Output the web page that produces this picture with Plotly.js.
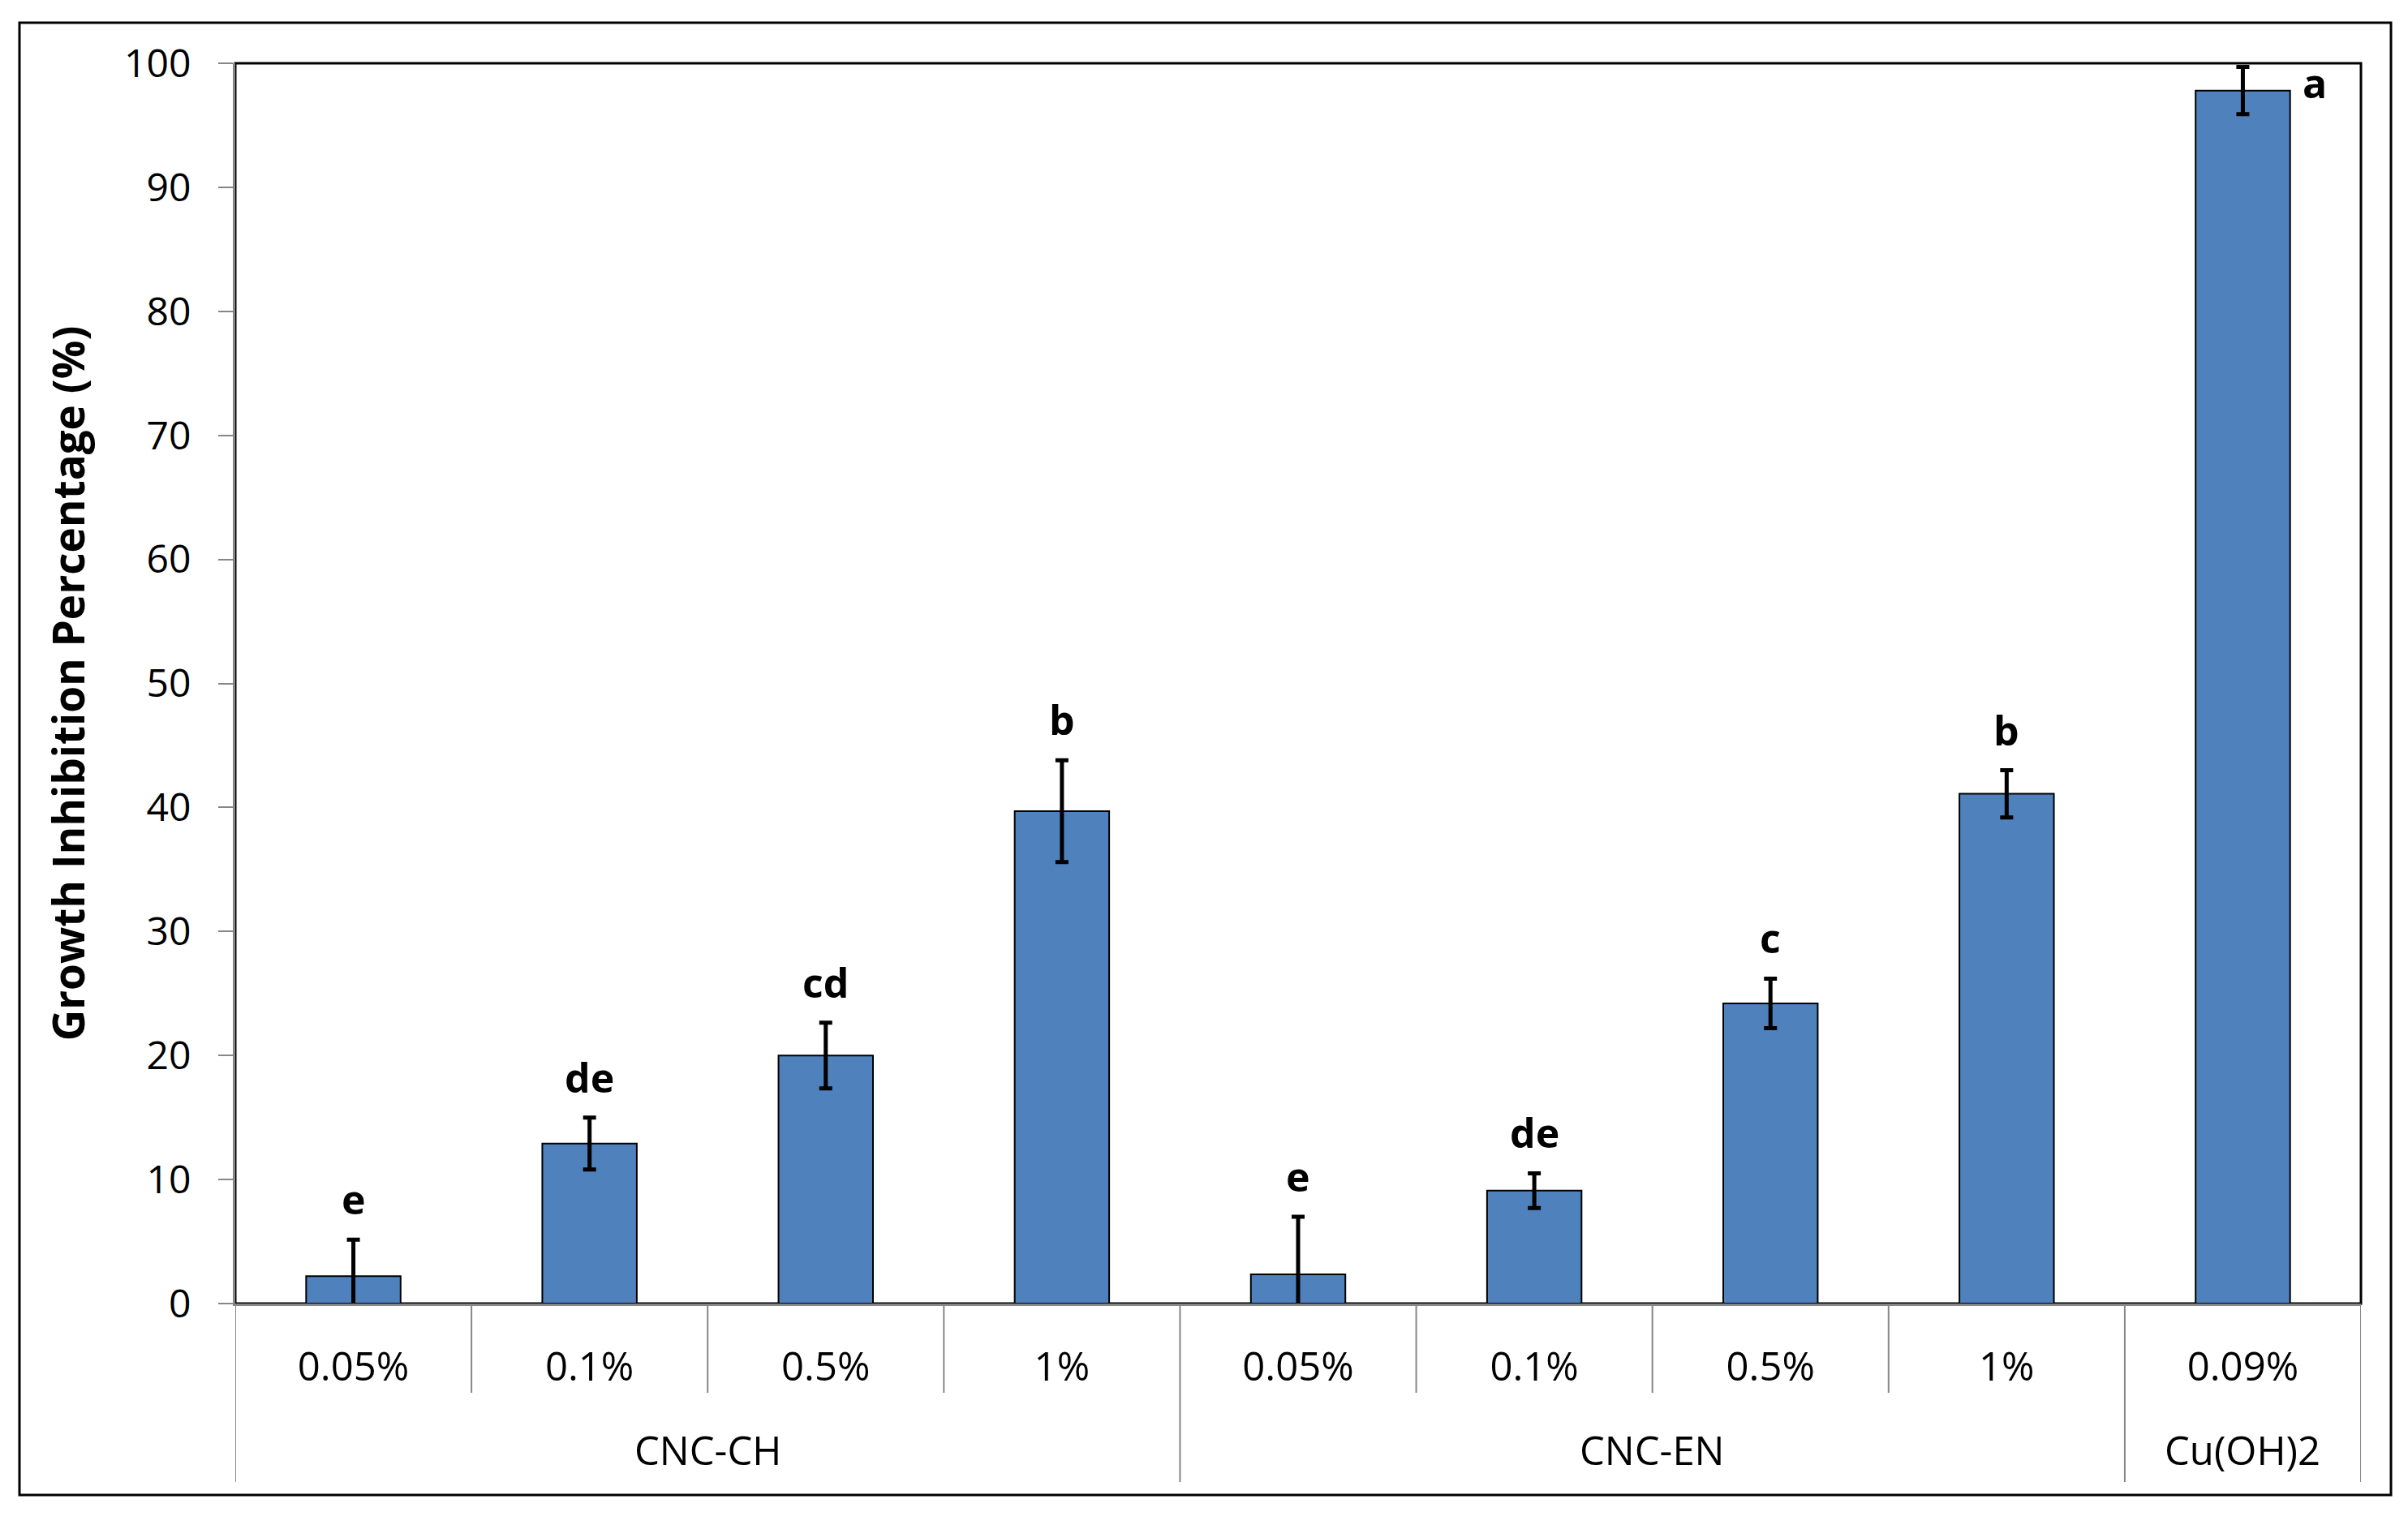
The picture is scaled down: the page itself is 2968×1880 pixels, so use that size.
<!DOCTYPE html>
<html>
<head>
<meta charset="utf-8">
<script src="https://cdn.plot.ly/plotly-3.0.1.min.js"></script>
<style>html,body{margin:0;padding:0;background:#fff;}#chart{width:2968px;height:1880px;}</style>
</head>
<body>
<div id="chart"></div>
<script>
// ---- data ----
const groups = ["CNC-CH","CNC-CH","CNC-CH","CNC-CH","CNC-EN","CNC-EN","CNC-EN","CNC-EN","Cu(OH)2"];
const concentrations = ["0.05%","0.1%","0.5%","1%","0.05%","0.1%","0.5%","1%","0.09%"];
const inhibition = [2.2, 12.9, 20.0, 39.7, 2.35, 9.1, 24.2, 41.1, 97.8];
const errors = [2.95, 2.1, 2.65, 4.1, 4.65, 1.4, 2.0, 1.9, 1.9];
const letters = ["e","de","cd","b","e","de","c","b","a"];
const yTicks = [0,10,20,30,40,50,60,70,80,90,100];

// ---- layout constants ----
const W = 2968, H = 1880;
const M = {l:290, r:58, t:78, b:273};
const PH = H - M.t - M.b, PW = W - M.l - M.r;
const FONT = "Open Sans, Noto Sans, DejaVu Sans, sans-serif";
const pxToPaperY = px => (H - M.b - px) / PH;   // px = absolute page y
const pxToPaperX = px => (px - M.l) / PW;
const gray = "#868686";

const xs = concentrations.map((_, i) => i);

const trace = {
  type: "bar",
  x: xs,
  y: inhibition,
  width: 0.4,
  marker: {color: "#4F81BD", line: {color: "#000000", width: 2}},
  error_y: {type: "data", array: errors, visible: true, color: "#000000", thickness: 5, width: 8},
  hoverinfo: "y"
};

// separators in the category axis region
const shapes = [];
const shortY = pxToPaperY(1717), longY = pxToPaperY(1827);
for (let k = 0; k <= xs.length; k++) {
  const isEdge = (k === 0 || k === xs.length);
  const isGroup = !isEdge && groups[k] !== groups[k - 1];
  shapes.push({type: "line", xref: "x", yref: "paper", x0: k - 0.5, x1: k - 0.5,
    y0: 0, y1: (isEdge || isGroup) ? longY : shortY,
    line: {color: gray, width: 2}, layer: "above"});
}
// plot area border (black top/right)
shapes.push({type: "rect", xref: "paper", yref: "paper", x0: 0, x1: 1, y0: 0, y1: 1,
  line: {color: "#000000", width: 3}, layer: "below"});
// chart outer border
shapes.push({type: "rect", xref: "paper", yref: "paper",
  x0: pxToPaperX(24), x1: pxToPaperX(2947), y0: pxToPaperY(1843), y1: pxToPaperY(28),
  line: {color: "#000000", width: 3}, layer: "below"});

// annotations: significance letters + group labels
const annotations = [];
letters.forEach((t, i) => {
  const last = i === letters.length - 1;
  annotations.push({
    x: xs[i], y: last ? inhibition[i] : inhibition[i] + errors[i],
    xref: "x", yref: "y", text: t, showarrow: false,
    xanchor: last ? "left" : "center", yanchor: last ? "middle" : "bottom",
    xshift: last ? 72 : 0, yshift: last ? 10 : 14,
    font: {family: FONT, size: 50, color: "#000000", weight: "bold"}
  });
});
const uniqueGroups = [...new Set(groups)];
uniqueGroups.forEach(g => {
  const idx = xs.filter(i => groups[i] === g);
  const mid = (idx[0] + idx[idx.length - 1]) / 2;
  annotations.push({x: mid, y: pxToPaperY(1787), xref: "x", yref: "paper", text: g,
    showarrow: false, xanchor: "center", yanchor: "middle",
    font: {family: FONT, size: 49, color: "#000000"}});
});

const layout = {
  width: W, height: H,
  margin: M,
  paper_bgcolor: "#ffffff", plot_bgcolor: "#ffffff",
  showlegend: false,
  bargap: 0.6,
  font: {family: FONT, size: 48, color: "#000000"},
  xaxis: {
    range: [-0.5, xs.length - 0.5], tickmode: "array", tickvals: xs, ticktext: concentrations,
    showline: true, linecolor: gray, linewidth: 3, ticks: "", showgrid: false, zeroline: false,
    tickfont: {family: FONT, size: 49, color: "#000000"}, ticklabelstandoff: 33,
    automargin: false, fixedrange: true
  },
  yaxis: {
    range: [0, 100], tickmode: "array", tickvals: yTicks,
    showline: true, linecolor: gray, linewidth: 3, ticks: "outside", ticklen: 18, tickwidth: 2, tickcolor: gray,
    showgrid: false, zeroline: false, ticklabelstandoff: 24,
    tickfont: {family: FONT, size: 48, color: "#000000"},
    title: {text: "Growth Inhibition Percentage (%)", standoff: 32,
      font: {family: FONT, size: 53, color: "#000000", weight: "bold"}},
    automargin: false, fixedrange: true
  },
  shapes: shapes,
  annotations: annotations
};

Plotly.newPlot("chart", [trace], layout, {displayModeBar: false, staticPlot: true});
</script>
</body>
</html>
